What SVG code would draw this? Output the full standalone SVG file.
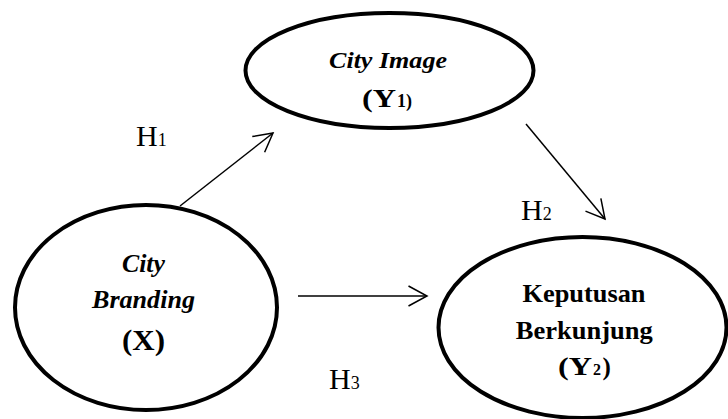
<svg xmlns="http://www.w3.org/2000/svg" width="728" height="419" viewBox="0 0 728 419">
<style>
.node ellipse{fill:#fff;stroke:#000;stroke-width:4}
text{font-family:"Liberation Serif","Times New Roman",serif;fill:#000}
.bi{font-weight:bold;font-style:italic}
.b{font-weight:bold}
.lbl{font-size:30px}
.sub{font-size:18px}
.conn line{stroke:#000;stroke-width:1.5;fill:none}
</style>
<defs>
<marker id="arr" viewBox="-22 -12 24 24" refX="0" refY="0" markerWidth="24" markerHeight="24" markerUnits="userSpaceOnUse" orient="auto">
<path d="M-18.5,-10 L0,0 L-18.5,10" fill="none" stroke="#000" stroke-width="1.5"/>
</marker>
</defs>
<rect width="728" height="419" fill="#fff"/>
<g id="connectors" class="conn">
<line x1="180" y1="206" x2="273" y2="133" marker-end="url(#arr)"/>
<line x1="526" y1="124" x2="605" y2="219" marker-end="url(#arr)"/>
<line x1="298" y1="296" x2="427" y2="296" marker-end="url(#arr)"/>
</g>
<g id="node-y1" class="node">
<ellipse cx="389.5" cy="70.5" rx="144" ry="57.5"/>
<text x="388" y="68" class="bi" font-size="24" text-anchor="middle" textLength="118" lengthAdjust="spacingAndGlyphs">City Image</text>
<text x="362" y="106.5" class="b" font-size="26" textLength="34" lengthAdjust="spacingAndGlyphs">(Y</text>
<text x="397" y="106.5" class="b" font-size="18" textLength="15" lengthAdjust="spacingAndGlyphs">1)</text>
</g>
<g id="node-x" class="node">
<ellipse cx="146" cy="307.5" rx="131" ry="102.5"/>
<text x="143.5" y="272" class="bi" font-size="25" text-anchor="middle" textLength="43" lengthAdjust="spacingAndGlyphs">City</text>
<text x="143.5" y="308" class="bi" font-size="25" text-anchor="middle" textLength="103" lengthAdjust="spacingAndGlyphs">Branding</text>
<text x="143.5" y="350" class="b" font-size="29" text-anchor="middle" textLength="43" lengthAdjust="spacingAndGlyphs">(X)</text>
</g>
<g id="node-y2" class="node">
<ellipse cx="582.5" cy="327.5" rx="144" ry="90.5"/>
<text x="584" y="302" class="b" font-size="25" text-anchor="middle" textLength="123" lengthAdjust="spacingAndGlyphs">Keputusan</text>
<text x="584.3" y="338.5" class="b" font-size="25" text-anchor="middle" textLength="137" lengthAdjust="spacingAndGlyphs">Berkunjung</text>
<text x="558" y="375" class="b" font-size="25" textLength="34" lengthAdjust="spacingAndGlyphs">(Y</text>
<text x="593" y="375" class="b" font-size="16">2</text>
<text x="602.5" y="375" class="b" font-size="25">)</text>
</g>
<g id="labels">
<text x="136" y="146" class="lbl">H<tspan class="sub">1</tspan></text>
<text x="521" y="220" class="lbl">H<tspan class="sub">2</tspan></text>
<text x="329" y="389" class="lbl">H<tspan class="sub">3</tspan></text>
</g>
</svg>
